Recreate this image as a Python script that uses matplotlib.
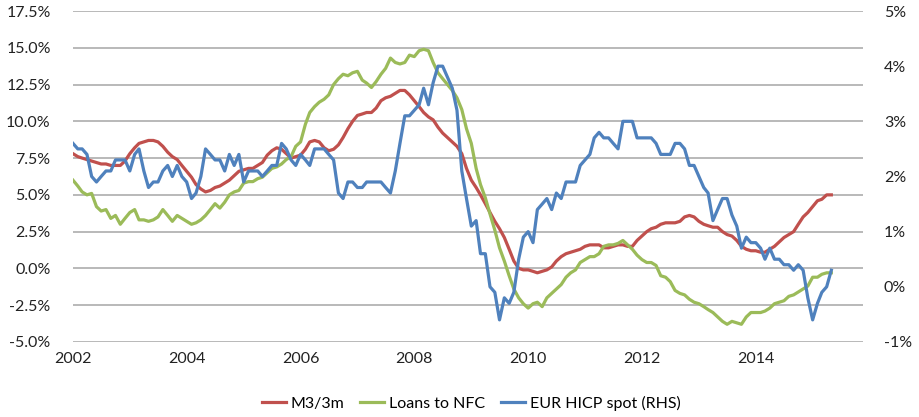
import matplotlib
matplotlib.use("Agg")
import matplotlib.pyplot as plt
import pandas as pd
from matplotlib.ticker import FuncFormatter

# monthly data, Jan 2002 - May 2015
dates = pd.date_range("2002-01-01", periods=161, freq="MS")

m3_3m = [
    7.8, 7.6, 7.5, 7.4, 7.3, 7.2, 7.1, 7.1, 7.0, 7.0, 7.0, 7.3,
    7.8, 8.2, 8.5, 8.6, 8.7, 8.7, 8.6, 8.3, 7.9, 7.6, 7.4, 7.0,
    6.6, 6.2, 5.7, 5.4, 5.2, 5.3, 5.5, 5.6, 5.8, 6.0, 6.3, 6.6,
    6.7, 6.8, 6.8, 7.0, 7.2, 7.7, 8.0, 8.2, 8.1, 7.8, 7.5, 7.6,
    7.7, 8.1, 8.6, 8.7, 8.6, 8.2, 8.0, 8.1, 8.4, 8.9, 9.5, 10.0,
    10.4, 10.5, 10.6, 10.6, 10.9, 11.4, 11.6, 11.7, 11.9, 12.1, 12.1, 11.8,
    11.4, 11.0, 10.6, 10.3, 10.1, 9.6, 9.2, 8.9, 8.6, 8.3, 7.8, 6.8,
    6.0, 5.5, 5.0, 4.4, 3.8, 3.2, 2.7, 2.1, 1.3, 0.5, 0.0, -0.1,
    -0.1, -0.2, -0.3, -0.2, -0.1, 0.1, 0.5, 0.8, 1.0, 1.1, 1.2, 1.3,
    1.5, 1.6, 1.6, 1.6, 1.4, 1.4, 1.5, 1.6, 1.6, 1.5, 1.5, 1.9,
    2.2, 2.5, 2.7, 2.8, 3.0, 3.1, 3.1, 3.1, 3.2, 3.5, 3.6, 3.5,
    3.2, 3.0, 2.9, 2.8, 2.8, 2.5, 2.3, 2.2, 1.9, 1.5, 1.3, 1.2,
    1.2, 1.1, 1.1, 1.3, 1.5, 1.8, 2.1, 2.3, 2.5, 3.0, 3.5, 3.8,
    4.2, 4.6, 4.7, 5.0, 5.0,
]

loans_nfc = [
    6.0, 5.6, 5.2, 5.0, 5.1, 4.2, 3.9, 4.0, 3.4, 3.6, 3.0, 3.4,
    3.8, 4.0, 3.3, 3.3, 3.2, 3.3, 3.5, 4.0, 3.6, 3.2, 3.6, 3.4,
    3.2, 3.0, 3.1, 3.3, 3.6, 4.0, 4.4, 4.1, 4.5, 5.0, 5.2, 5.3,
    5.8, 5.9, 5.9, 6.1, 6.2, 6.5, 6.8, 6.9, 7.1, 7.4, 7.6, 8.3,
    8.6, 9.8, 10.6, 11.0, 11.3, 11.5, 11.8, 12.5, 12.9, 13.2, 13.1, 13.3,
    13.4, 12.8, 12.6, 12.3, 12.7, 13.2, 13.6, 14.3, 14.0, 13.9, 14.0, 14.5,
    14.4, 14.8, 14.9, 14.8, 14.0, 13.3, 12.9, 12.5, 12.1, 11.6, 10.8, 9.5,
    8.5, 6.8, 5.7, 4.8, 3.7, 2.6, 1.4, 0.5, -0.5, -1.4, -2.0, -2.4,
    -2.7, -2.4, -2.3, -2.6, -2.0, -1.7, -1.4, -1.1, -0.6, -0.3, -0.1, 0.4,
    0.6, 0.8, 0.8, 1.0, 1.5, 1.6, 1.6, 1.7, 1.9, 1.6, 1.3, 0.9,
    0.6, 0.4, 0.4, 0.2, -0.5, -0.6, -0.9, -1.5, -1.7, -1.8, -2.1, -2.3,
    -2.4, -2.6, -2.8, -3.0, -3.3, -3.6, -3.8, -3.6, -3.7, -3.8, -3.3, -3.0,
    -3.0, -3.0, -2.9, -2.7, -2.4, -2.3, -2.2, -1.9, -1.8, -1.6, -1.4, -1.2,
    -0.6, -0.6, -0.4, -0.3, -0.3,
]

hicp = [
    2.6, 2.5, 2.5, 2.4, 2.0, 1.9, 2.0, 2.1, 2.1, 2.3, 2.3, 2.3,
    2.1, 2.4, 2.5, 2.1, 1.8, 1.9, 1.9, 2.1, 2.2, 2.0, 2.2, 2.0,
    1.9, 1.6, 1.7, 2.0, 2.5, 2.4, 2.3, 2.3, 2.1, 2.4, 2.2, 2.4,
    1.9, 2.1, 2.1, 2.1, 2.0, 2.1, 2.2, 2.2, 2.6, 2.5, 2.3, 2.2,
    2.4, 2.3, 2.2, 2.5, 2.5, 2.5, 2.4, 2.3, 1.7, 1.6, 1.9, 1.9,
    1.8, 1.8, 1.9, 1.9, 1.9, 1.9, 1.8, 1.7, 2.1, 2.6, 3.1, 3.1,
    3.2, 3.3, 3.6, 3.3, 3.7, 4.0, 4.0, 3.8, 3.6, 3.2, 2.1, 1.6,
    1.1, 1.2, 0.6, 0.6, 0.0, -0.1, -0.6, -0.2, -0.3, -0.1, 0.5, 0.9,
    1.0, 0.8, 1.4, 1.5, 1.6, 1.4, 1.7, 1.6, 1.9, 1.9, 1.9, 2.2,
    2.3, 2.4, 2.7, 2.8, 2.7, 2.7, 2.6, 2.5, 3.0, 3.0, 3.0, 2.7,
    2.7, 2.7, 2.7, 2.6, 2.4, 2.4, 2.4, 2.6, 2.6, 2.5, 2.2, 2.2,
    2.0, 1.8, 1.7, 1.2, 1.4, 1.6, 1.6, 1.3, 1.1, 0.7, 0.9, 0.8,
    0.8, 0.7, 0.5, 0.7, 0.5, 0.5, 0.4, 0.4, 0.3, 0.4, 0.3, -0.2,
    -0.6, -0.3, -0.1, 0.0, 0.3,
]

years = [2002, 2004, 2006, 2008, 2010, 2012, 2014]
left_ticks = [-5, -2.5, 0, 2.5, 5, 7.5, 10, 12.5, 15, 17.5]
right_ticks = [-1, 0, 1, 2, 3, 4, 5]

plt.rcParams["font.family"] = ["Lato", "DejaVu Sans"]
plt.rcParams["font.size"] = 11.5

fig = plt.figure(figsize=(9.2, 4.17), dpi=100)
ax = fig.add_axes([0.0793, 0.18, 0.8587, 0.7936])
ax2 = ax.twinx()

l1, = ax.plot(dates, m3_3m, color="#C0504D", lw=2.3, label="M3/3m")
l2, = ax.plot(dates, loans_nfc, color="#9BBB59", lw=2.3, label="Loans to NFC")
l3, = ax2.plot(dates, hicp, color="#4F81BD", lw=2.3, label="EUR HICP spot (RHS)")

ax.set_ylim(-5, 17.5)
ax2.set_ylim(-1, 5)
ax.set_yticks(left_ticks)
ax2.set_yticks(right_ticks)
ax.yaxis.set_major_formatter(FuncFormatter(lambda v, p: f"{v:.1f}%"))
ax2.yaxis.set_major_formatter(FuncFormatter(lambda v, p: f"{v:.0f}%"))

ax.set_xlim(pd.Timestamp("2002-01-01"), pd.Timestamp("2015-11-20"))
ax.set_xticks([pd.Timestamp(f"{y}-01-01") for y in years])
ax.set_xticklabels([str(y) for y in years])

ax.grid(axis="y", color="#a6a6a6", lw=1.1)
ax.set_axisbelow(True)
for a in (ax, ax2):
    for s in a.spines.values():
        s.set_visible(False)
    a.tick_params(length=0, colors="#222222")
ax.tick_params(axis="y", pad=16)
ax2.tick_params(axis="y", pad=15)
ax.tick_params(axis="x", pad=7)

fig.legend(handles=[l1, l2, l3], loc="center", bbox_to_anchor=(0.512, 0.033),
           ncol=3, frameon=False, handlelength=1.5, columnspacing=1.0,
           handletextpad=0.3, fontsize=11.5)

fig.savefig("out.png", dpi=100)
